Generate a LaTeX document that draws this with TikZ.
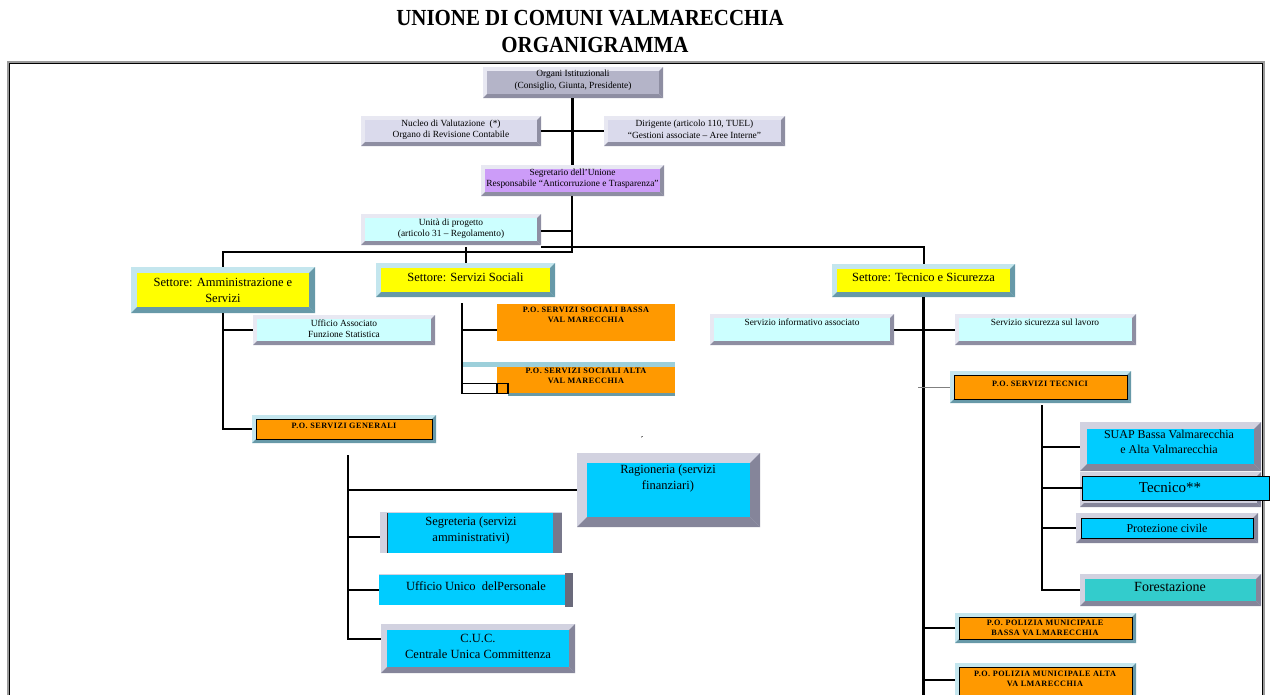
\documentclass[tikz,border=0pt]{standalone}
\usepackage{fontspec}
\setmainfont{Liberation Serif}
\usepackage{graphicx}
\usetikzlibrary{fit,calc}
\definecolor{lavin}{HTML}{B4B4C8}
\definecolor{lavpale}{HTML}{DADAEC}
\definecolor{lavlight}{HTML}{E8E8F2}
\definecolor{lavdark}{HTML}{8E8EA2}
\definecolor{segviolet}{HTML}{CC9CF8}
\definecolor{palecyan}{HTML}{CCFFFF}
\definecolor{setyellow}{HTML}{FFFF00}
\definecolor{tealight}{HTML}{C4E6EE}
\definecolor{tealdark}{HTML}{6799A8}
\definecolor{poorange}{HTML}{FF9900}
\definecolor{boxcyan}{HTML}{00CCFF}
\definecolor{forteal}{HTML}{33CCCC}
\definecolor{grylight}{HTML}{D2D2E0}
\definecolor{grydark}{HTML}{85859A}
\definecolor{striplight}{HTML}{9CCFDA}
\definecolor{stripdark}{HTML}{6A9AA6}
\definecolor{framegray}{HTML}{9A9A9A}
\tikzset{
  bevd/.store in=\bevd, bevd=4pt,
  bevl/.store in=\bevl, bevl=lavlight,
  bevk/.store in=\bevk, bevk=lavdark,
  bevi/.store in=\bevi, bevi=white,
  bevb/.store in=\bevb, bevb=none,
  bev/.style={inner sep=0pt, outer sep=0pt, fill=white, path picture={
     \path (path picture bounding box.south west) coordinate (ppa)
           (path picture bounding box.north east) coordinate (ppb);
     \path (ppb|-ppa) coordinate (ppc);
     \path[fill=\bevl] (ppa) rectangle (ppb);
     \path[fill=\bevk] (ppb) -- (ppc) -- ([xshift=-\bevd,yshift=\bevd]ppc) -- ([xshift=-\bevd,yshift=-\bevd]ppb) -- cycle;
     \path[fill=\bevk] (ppa) -- (ppc) -- ([xshift=-\bevd,yshift=\bevd]ppc) -- ([xshift=\bevd,yshift=\bevd]ppa) -- cycle;
     \path[fill=\bevi, draw=\bevb, line width=0.9pt] ([xshift=\bevd,yshift=\bevd]ppa) rectangle ([xshift=-\bevd,yshift=-\bevd]ppb);
  }},
  lavbox/.style={bev, bevl=lavlight, bevk=lavdark, bevd=4pt},
  setbox/.style={bev, bevl=tealight, bevk=tealdark, bevd=5pt, bevi=setyellow},
  pobox/.style={bev, bevl=tealight, bevk=tealdark, bevd=4pt, bevi=poorange, bevb=black},
  grybox/.style={bev, bevl=grylight, bevk=grydark, bevd=6pt, bevi=boxcyan},
  conn/.style={draw=black, line width=2pt},
  thickconn/.style={draw=black, line width=3pt},
  smalltxt/.style={align=center, font=\fontsize{9.4}{11.5}\selectfont},
  medtxt/.style={align=center, font=\fontsize{12.5}{16}\selectfont},
  potxt/.style={align=center, font=\bfseries\fontsize{8.2}{10.5}\selectfont\addfontfeature{LetterSpace=6}},
  titletxt/.style={anchor=base, font=\bfseries\fontsize{23}{27}\selectfont},
}
\begin{document}
\begin{tikzpicture}[x=1pt,y=-1pt]
\useasboundingbox (0,0) rectangle (1272,694);
% frame
\draw[framegray, line width=2.6pt] (8.5,62) rectangle (1263.5,720);
\draw[black, line width=1pt] (9.5,63) rectangle (1262.5,720);
% title
\node[titletxt] (title1) at (590,25.5) {\scalebox{0.91}[1]{UNIONE DI COMUNI VALMARECCHIA}};
\node[titletxt] (title2) at (595,52) {\scalebox{0.91}[1]{ORGANIGRAMMA}};

% top boxes
\node[lavbox, bevi=lavin, fit={(483,67) (663,98)}] (organi) {};
\node[lavbox, bevi=lavpale, fit={(361,116) (541,146)}] (nucleo) {};
\node[lavbox, bevi=lavpale, fit={(604,116) (785,146)}] (dirig) {};
\node[lavbox, bevi=segviolet, fit={(481,165) (664,196)}] (segr) {};
\node[lavbox, bevi=palecyan, fit={(361,214) (541,245)}] (unita) {};
% settori
\node[setbox, bevd=6pt, fit={(131,267) (315,313)}] (setamm) {};
\node[setbox, fit={(376,263) (555,297)}] (setsoc) {};
\node[setbox, fit={(832,264) (1015,297)}] (settec) {};
% left branch
\node[lavbox, bevi=palecyan, fit={(253,315) (435,345)}] (uffass) {};
\node[pobox, fit={(252,415) (436,443)}] (posg) {};
\node[grybox, bevd=10pt, fit={(577,453) (760,527)}] (rag) {};
\node[inner sep=0pt, fill=boxcyan, fit={(380,513) (562,553)}] (segrt) {};
\fill[grylight] (segrt.north west) rectangle ($(segrt.south west)+(7,0)$);
\draw[black!80, line width=1.2pt] ($(segrt.north west)+(7.6,0)$) -- ($(segrt.south west)+(7.6,0)$);
\fill[grydark!90!black] ($(segrt.north east)+(-9,0)$) rectangle (segrt.south east);
\draw[grylight, line width=1pt] (segrt.north west) -- (segrt.north east);
\node[inner sep=0pt, fill=boxcyan, fit={(379,575) (573,605)}] (uffun) {};
\fill[grydark!80!black] ($(uffun.north east)+(-8,-2)$) rectangle ($(uffun.south east)+(0,2)$);
\draw[grylight, line width=1pt] (uffun.north west) -- ($(uffun.north east)+(-8,0)$);
\node[grybox, fit={(381,624) (575,673)}] (cuc) {};
% middle branch
\node[inner sep=0pt, fill=poorange, fit={(497,304) (675,341)}] (possb) {};
\node[inner sep=0pt, fill=poorange, fit={(497,367) (675,393)}] (possa) {};
\fill[striplight] ($(possa.north west)+(-35,-5)$) rectangle (possa.north east);
\fill[stripdark] ($(possa.south west)+(11,0)$) rectangle ($(possa.south east)+(0,3)$);
% right branch
\node[lavbox, bevi=palecyan, fit={(710,314) (894,345)}] (servinf) {};
\node[lavbox, bevi=palecyan, fit={(955,314) (1136,345)}] (servsic) {};
\node[pobox, fit={(950,371) (1131,403)}] (post) {};
\node[grybox, bevd=7pt, fit={(1080,422) (1261,471)}] (suap) {};
\node[grybox, bevd=4pt, bevi=grylight, fit={(1080,472) (1261,507)}] (tecnb) {};
\node[inner sep=0pt, fill=boxcyan, draw=black, line width=0.9pt, fit={(1082,476) (1269,500)}] (tecn) {};
\node[grybox, bevd=5pt, bevb=black, fit={(1076,513) (1258,543)}] (prot) {};
\node[grybox, bevd=5pt, bevi=forteal, fit={(1080,574) (1261,606)}] (fore) {};
\node[pobox, fit={(955,613) (1136,643)}] (popb) {};
\node[pobox, fit={(955,663) (1136,700)}] (popa) {};

% connectors
\coordinate (jx) at (572,0);
\coordinate (busA) at (0,252);
\coordinate (busB) at (0,247);
\coordinate (pend) at (0,700);
\draw[thickconn] (organi.south -| jx) -- (segr.north -| jx);
\draw[conn] ($(nucleo.north east)+(0,15)$) -- ($(dirig.north west)+(0,15)$);
\draw[conn] (segr.south -| jx) -- (jx |- busA) -- (setamm.north |- busA) -- (setamm.north);
\draw[conn] ($(unita.north east)+(0,17)$) -- ($(unita.north east -| jx)+(0,17)$);
\draw[conn] (unita.south east |- busB) -- (settec.north |- busB) -- (settec.north);
\draw[conn] (setsoc.north |- busB) -- (setsoc.north);
% left
\draw[conn] (setamm.south) -- (setamm.south |- posg.west) -- (posg.west);
\draw[conn] (setamm.south |- uffass.west) -- (uffass.west);
\coordinate (pgtop) at (348,455);
\draw[conn] (pgtop) |- ($(cuc.north west)+(0,15)$);
\draw[conn] (pgtop |- rag.west) -- (rag.west);
\draw[conn] ($(segrt.north west)+(0,24)$) -- +(-32,0);
\draw[conn] (pgtop |- uffun.west) -- (uffun.west);
% middle
\coordinate (sstop) at (462,303);
\draw[conn] ($(possb.north west)+(0,26)$) -| (sstop);
\draw[conn] (sstop) -- (sstop |- possa.south);
\draw[line width=1.4pt] ($(possa.south west)+(-35,-10)$) rectangle (possa.south west);
\draw[line width=1.4pt] ($(possa.south west)+(0,-10)$) rectangle ($(possa.south west)+(11,0)$);
% right
\draw[conn, line width=2.2pt] (settec.south) -- (settec.south |- pend);
\draw[conn] ($(servinf.north east)+(0,16)$) -- ($(servsic.north west)+(0,16)$);
\draw[gray, line width=1pt] ($(post.west)+(-32,0)$) -- (post.west);
\draw[conn] (settec.south |- popb.west) -- (popb.west);
\draw[conn] ($(settec.south |- popa.north west)+(0,17)$) -- ($(popa.north west)+(0,17)$);
\coordinate (pttop) at (1042,405);
\draw[conn] (pttop) |- (fore.west);
\draw[conn] ($(pttop |- suap.north west)+(0,25)$) -- ($(suap.north west)+(0,25)$);
\draw[conn] (pttop |- tecn.west) -- (tecn.west);
\draw[conn] (pttop |- prot.west) -- (prot.west);

% texts
\node[smalltxt] (t-organi) at (573,80) {Organi Istituzionali\\(Consiglio, Giunta, Presidente)};
\node[smalltxt] (t-nucleo) at (451,129.5) {Nucleo di Valutazione~~(*)\\Organo di Revisione Contabile};
\node[smalltxt] (t-dirig) at (694.5,129.5) {Dirigente (articolo 110, TUEL)\\“Gestioni associate – Aree Interne”};
\node[smalltxt] (t-segr) at (572.5,178.5) {Segretario dell’Unione\\Responsabile “Anticorruzione e Trasparenza”};
\node[smalltxt] (t-unita) at (451,228.5) {Unità di progetto\\(articolo 31 – Regolamento)};
\node[medtxt] (t-setamm) at (223,290) {Settore: Amministrazione e\\Servizi};
\node[medtxt] (t-setsoc) at (465.5,277.5) {Settore: Servizi Sociali};
\node[medtxt] (t-settec) at (923.5,277.5) {Settore: Tecnico e Sicurezza};
\node[smalltxt] (t-uffass) at (344,328.5) {Ufficio Associato\\Funzione Statistica};
\node[potxt] (t-posg) at (344,425.5) {P.O. SERVIZI GENERALI};
\node[potxt] (t-possb) at (586,315) {P.O. SERVIZI SOCIALI BASSA\\VAL MARECCHIA};
\node[potxt] (t-possa) at (586,376) {P.O. SERVIZI SOCIALI ALTA\\VAL MARECCHIA};
\node[smalltxt] (t-servinf) at (802,322) {Servizio informativo associato};
\node[smalltxt] (t-servsic) at (1045,322) {Servizio sicurezza sul lavoro};
\node[potxt] (t-post) at (1040,384) {P.O. SERVIZI TECNICI};
\node[medtxt] (t-rag) at (668,478) {Ragioneria (servizi\\finanziari)};
\node[medtxt] (t-segrt) at (471,530.5) {Segreteria (servizi\\amministrativi)};
\node[medtxt] (t-uffun) at (476,586) {Ufficio Unico~~delPersonale};
\node[medtxt] (t-cuc) at (478,646.5) {C.U.C.\\Centrale Unica Committenza};
\node[medtxt, font=\fontsize{12}{15}\selectfont] (t-suap) at (1169,441.5) {SUAP Bassa Valmarecchia\\e Alta Valmarecchia};
\node[medtxt, font=\fontsize{15}{18}\selectfont] (t-tecn) at (1170,488) {Tecnico**};
\node[medtxt, font=\fontsize{12}{15}\selectfont] (t-prot) at (1167,528) {Protezione civile};
\node[medtxt, font=\fontsize{14}{17}\selectfont] (t-fore) at (1170,587) {Forestazione};
\node[potxt] (t-popb) at (1045,628) {P.O. POLIZIA MUNICIPALE\\BASSA VA LMARECCHIA};
\node[potxt] (t-popa) at (1045,679) {P.O. POLIZIA MUNICIPALE ALTA\\VA LMARECCHIA};
\node[font=\fontsize{10}{10}\selectfont] (tick) at (642,440) {´};
\end{tikzpicture}
\end{document}
